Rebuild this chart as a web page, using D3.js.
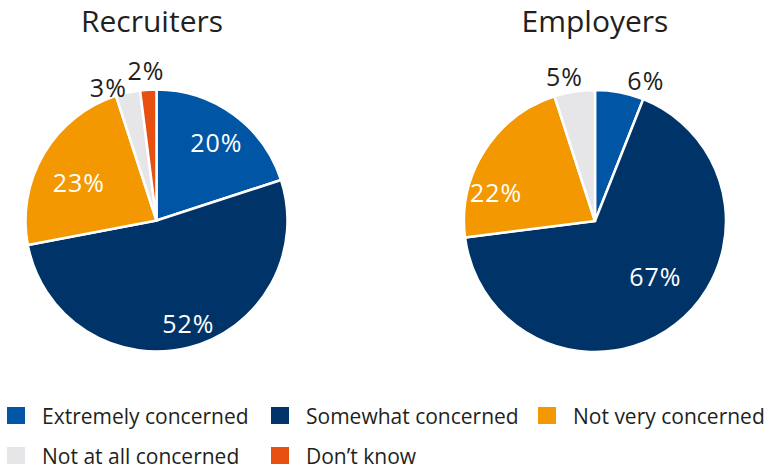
<!DOCTYPE html>
<html>
<head>
<meta charset="utf-8">
<script src="https://cdn.jsdelivr.net/npm/d3@7"></script>
<style>
  html, body { margin: 0; padding: 0; background: #ffffff; }
  svg { display: block; }
  text { font-family: "Open Sans", "Noto Sans", sans-serif; }
</style>
</head>
<body>
<svg id="chart" width="770" height="468"></svg>
<script>
// ---- Data ----
const categories = ["Extremely concerned", "Somewhat concerned", "Not very concerned", "Not at all concerned", "Don\u2019t know"];
const chartTitles = ["Recruiters", "Employers"];
const recruitersValues = [20, 52, 23, 3, 2];
const employersValues = [6, 67, 22, 5, 0];
const colors = ["#0055a4", "#003469", "#f39800", "#e6e5e7", "#e8500f"];

// ---- Layout ----
const W = 770, H = 468;
const R = 131;
const centers = [[156.5, 220.5], [595, 221]];
// label placement (angle in degrees clockwise from top, radius as fraction of R)
const labelPolar = [
  [[37.5, 0.75], [163, 0.83], [296, 0.66], [340, 1.075], [356, 1.145]],
  [[20, 1.135], [133, 0.63], [286, 0.785], [348, 1.12], null]
];
const insideLabel = [[true, true, true, false, false], [false, true, true, false, false]];

const svg = d3.select("#chart");
const pie = d3.pie().sort(null).value(d => d.value);
const arc = d3.arc().innerRadius(0).outerRadius(R);
const color = d3.scaleOrdinal().domain(categories).range(colors);

[recruitersValues, employersValues].forEach((vals, ci) => {
  const data = categories.map((c, i) => ({ cat: c, value: vals[i], idx: i }));
  const g = svg.append("g").attr("transform", `translate(${centers[ci][0]},${centers[ci][1]})`);
  const arcs = pie(data).filter(d => d.data.value > 0);

  g.selectAll("path.slice")
    .data(arcs)
    .join("path")
    .attr("class", "slice")
    .attr("d", arc)
    .attr("fill", d => color(d.data.cat))
    .attr("stroke", "#ffffff")
    .attr("stroke-width", 2.5)
    .attr("stroke-linejoin", "round");

  g.selectAll("text.lbl")
    .data(arcs)
    .join("text")
    .attr("class", "lbl")
    .attr("transform", d => {
      const p = labelPolar[ci][d.data.idx];
      const a = p[0] * Math.PI / 180, r = p[1] * R;
      return `translate(${r * Math.sin(a)},${-r * Math.cos(a)})`;
    })
    .attr("text-anchor", "middle")
    .attr("dy", "0.36em")
    .attr("font-size", 25)
    .attr("letter-spacing", 1)
    .attr("fill", d => insideLabel[ci][d.data.idx] ? "#ffffff" : "#231f20")
    .text(d => d.data.value + "%");

  svg.append("text")
    .attr("x", centers[ci][0] - (ci === 0 ? 4.5 : 0))
    .attr("y", 32)
    .attr("text-anchor", "middle")
    .attr("font-size", 30)
    .attr("fill", "#231f20")
    .text(chartTitles[ci]);
});

// ---- Legend ----
const legendPos = [[7, 407], [271, 407], [538, 407], [7, 447], [271, 447]];
const legend = svg.append("g");
categories.forEach((c, i) => {
  const [x, y] = legendPos[i];
  legend.append("rect")
    .attr("x", x).attr("y", y).attr("width", 18).attr("height", 17)
    .attr("fill", color(c));
  legend.append("text")
    .attr("x", x + 35).attr("y", y + 16.5)
    .attr("font-size", 21)
    .attr("fill", "#231f20")
    .text(c);
});
</script>
</body>
</html>
